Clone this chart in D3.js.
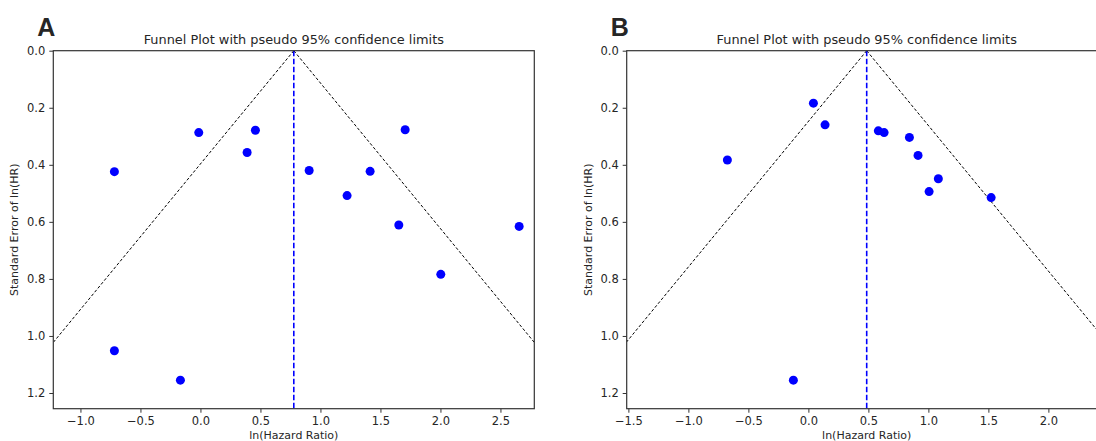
<!DOCTYPE html>
<html lang="en">
<head>
<meta charset="UTF-8">
<title>Funnel plots</title>
<script src="https://d3js.org/d3.v7.min.js"></script>
<style>
  html, body { margin: 0; background: #fff; overflow: hidden; }
  svg { display: block; }
  text { font-family: "DejaVu Sans", sans-serif; fill: #262626; }
</style>
</head>
<body>
<svg id="svg"></svg>
<script>
// ---- data ----
const aLogHR = [-0.717, -0.717, -0.167, -0.014, 0.389, 0.458, 0.906, 1.222, 1.414, 1.653, 1.706, 2.003, 2.656];
const aSE    = [ 0.424,  1.052,  1.155,  0.287, 0.357, 0.279, 0.420, 0.508, 0.423, 0.611, 0.277, 0.784, 0.616];
const aPooled = 0.778;

const bLogHR = [-0.675, -0.125, 0.042, 0.139, 0.583, 0.631, 0.842, 0.914, 1.006, 1.083, 1.523];
const bSE    = [ 0.383,  1.155, 0.184, 0.260, 0.281, 0.287, 0.304, 0.367, 0.494, 0.449, 0.515];
const bPooled = 0.486;

const yTicks = [0.0, 0.2, 0.4, 0.6, 0.8, 1.0, 1.2];
const aXTicks = [-1.0, -0.5, 0.0, 0.5, 1.0, 1.5, 2.0, 2.5];
const bXTicks = [-1.5, -1.0, -0.5, 0.0, 0.5, 1.0, 1.5, 2.0];

const title = 'Funnel Plot with pseudo 95% confidence limits';
const seMax = 1.255;

const width = 1096, height = 441;
const svg = d3.select('#svg').attr('width', width).attr('height', height);

// panel B runs past the right edge of the picture, as in the source figure
const panels = [
  { id: 'A', x: aLogHR, se: aSE, pooled: aPooled, ticks: aXTicks, left: 53.3, right: 534.3 },
  { id: 'B', x: bLogHR, se: bSE, pooled: bPooled, ticks: bXTicks, left: 626.7, right: 1106.7 }
];
const plotTop = 50.7, plotBottom = 408.7;

panels.forEach(p => {
  const half = (p.right - p.left) / 2 / 120;
  const x = d3.scaleLinear().domain([p.pooled - half, p.pooled + half]).range([p.left, p.right]);
  const y = d3.scaleLinear().domain([0, seMax]).range([plotTop, plotBottom]);

  const g = svg.append('g');
  const clipId = 'clip' + p.id;
  g.append('clipPath').attr('id', clipId)
    .append('rect').attr('x', p.left).attr('y', plotTop)
    .attr('width', p.right - p.left).attr('height', plotBottom - plotTop);

  const plot = g.append('g').attr('clip-path', `url(#${clipId})`);

  // pseudo 95% limits
  [-1, 1].forEach(s => {
    plot.append('line')
      .attr('x1', x(p.pooled)).attr('y1', y(0))
      .attr('x2', x(p.pooled + s * 1.96 * 1.4)).attr('y2', y(1.4))
      .attr('stroke', '#000').attr('stroke-width', 1)
      .attr('stroke-dasharray', '3,2');
  });

  // pooled estimate
  plot.append('line')
    .attr('x1', x(p.pooled)).attr('x2', x(p.pooled))
    .attr('y1', y(0)).attr('y2', y(seMax))
    .attr('stroke', '#0000ff').attr('stroke-width', 1.6)
    .attr('stroke-dasharray', '5.5,2.5');

  plot.selectAll('circle').data(p.x.map((v, k) => [v, p.se[k]])).join('circle')
    .attr('cx', d => x(d[0])).attr('cy', d => y(d[1])).attr('r', 4.5)
    .attr('fill', '#0000ff');

  // axes
  const xAxis = d3.axisBottom(x).tickValues(p.ticks).tickSize(4).tickPadding(4)
    .tickFormat(d => d3.format('.1f')(d).replace('-', '\u2212'));
  const gx = g.append('g').attr('transform', `translate(0,${plotBottom})`).call(xAxis);
  const yAxis = d3.axisLeft(y).tickValues(yTicks).tickSize(4).tickPadding(4)
    .tickFormat(d3.format('.1f'));
  const gy = g.append('g').attr('transform', `translate(${p.left},0)`).call(yAxis);
  [gx, gy].forEach(a => {
    a.select('.domain').remove();
    a.selectAll('line').attr('stroke', '#333').attr('stroke-width', 1);
    a.selectAll('text').attr('font-size', 11.5).attr('fill', '#262626')
      .style('font-family', '"DejaVu Sans", sans-serif');
  });

  // spines
  g.append('rect').attr('x', p.left).attr('y', plotTop)
    .attr('width', p.right - p.left).attr('height', plotBottom - plotTop)
    .attr('fill', 'none').attr('stroke', '#333').attr('stroke-width', 1.2);

  const cx = (p.left + p.right) / 2;
  g.append('text').attr('x', cx).attr('y', 44).attr('text-anchor', 'middle')
    .attr('font-size', 12.9).text(title);
  g.append('text').attr('x', cx).attr('y', 438.5).attr('text-anchor', 'middle')
    .attr('font-size', 11).text('ln(Hazard Ratio)');
  g.append('text').attr('transform', `translate(${p.left - 35},${(plotTop + plotBottom) / 2}) rotate(-90)`)
    .attr('text-anchor', 'middle').attr('font-size', 11).text('Standard Error of ln(HR)');

  g.append('text').attr('x', p.left - 16).attr('y', 36)
    .style('font-family', '"Liberation Sans", Arial, sans-serif')
    .attr('font-weight', 'bold').attr('font-size', 25).attr('fill', '#000').text(p.id);
});
</script>
</body>
</html>
